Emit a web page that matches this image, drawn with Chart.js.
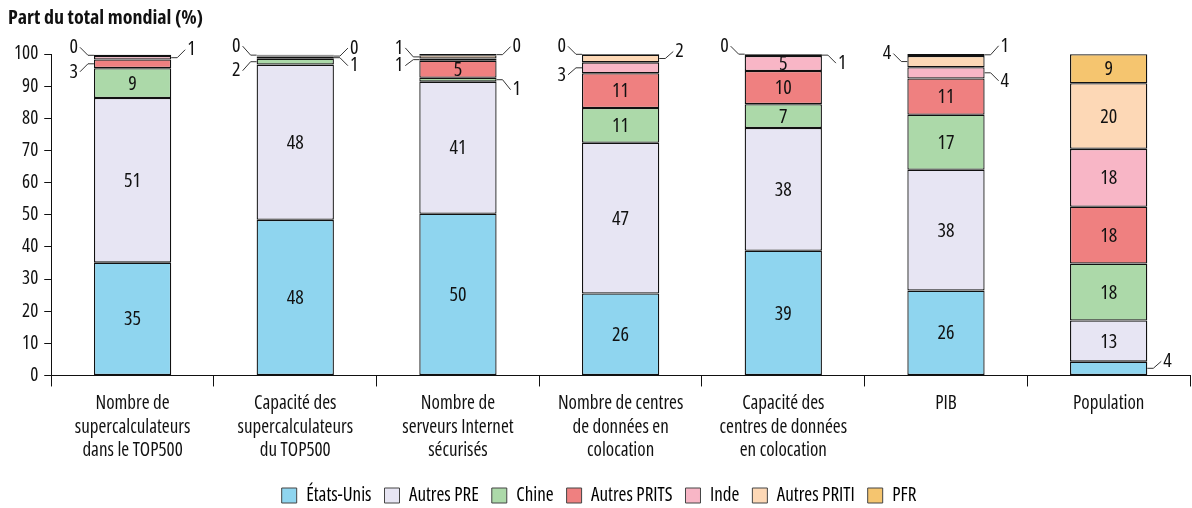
<!DOCTYPE html>
<html>
<head>
<meta charset="utf-8">
<script src="https://cdn.jsdelivr.net/npm/chart.js@4"></script>
<style>
  html, body { margin: 0; padding: 0; background: #fff; }
  #wrap { width: 1192px; height: 508px; }
</style>
</head>
<body>
<div id="wrap"><canvas id="graphique"></canvas></div>
<script>
// --- DONNÉES ---
const categories = [
  ['Nombre de', 'supercalculateurs', 'dans le TOP500'],
  ['Capacité des', 'supercalculateurs', 'du TOP500'],
  ['Nombre de', 'serveurs Internet', 'sécurisés'],
  ['Nombre de centres', 'de données en', 'colocation'],
  ['Capacité des', 'centres de données', 'en colocation'],
  ['PIB'],
  ['Population']
];
const etatsUnis   = [35.1, 48.4, 50.3, 25.5, 38.8, 26.4, 4.3];
const autresPRE   = [51.2, 48.3, 41.1, 46.9, 38.2, 37.6, 12.8];
const chine       = [9.3, 1.8, 1.2, 10.8, 7.4, 17.1, 17.7];
const autresPRITS = [2.7, 0.7, 5.3, 10.8, 10.3, 11.3, 17.7];
const inde        = [1.1, 0.3, 0.7, 3.4, 4.7, 3.5, 18.0];
const autresPRITI = [0.4, 0.3, 1.0, 2.4, 0.5, 3.5, 20.4];
const pfr         = [0, 0, 0.4, 0.2, 0.1, 0.7, 9.0];
const yTicks = [0, 10, 20, 30, 40, 50, 60, 70, 80, 90, 100];

// --- POLICE : on cherche une police étroite installée ---
const essai = document.createElement('canvas').getContext('2d');
function largeur(f) { essai.font = f; return essai.measureText('supercalculateurs TOP500').width; }
const refMono = largeur('100px monospace');
const candidats = [
  ['', "'Liberation Sans Narrow'"], ['', "'DejaVu Sans Condensed'"], ['', "'Roboto Condensed'"],
  ['', "'Open Sans Condensed'"], ['condensed', "'Noto Sans'"], ['condensed', "'Open Sans'"],
  ['condensed', "'Roboto'"], ['condensed', "'DejaVu Sans'"], ['', "'Noto Sans'"], ['', "'DejaVu Sans'"]
];
let choix = candidats[candidats.length - 1], meilleure = Infinity;
candidats.forEach(c => {
  const w = largeur((c[0] ? c[0] + ' ' : '') + '100px ' + c[1] + ', monospace');
  if (Math.abs(w - refMono) > 0.5 && w < meilleure - 0.5) { meilleure = w; choix = c; }
});
const POLICE = choix[1] + ', sans-serif';
const ETIREMENT = choix[0];
// taille pour approcher la largeur des libellés de l'original
const kLargeur = largeur((ETIREMENT ? ETIREMENT + ' ' : '') + '100px ' + POLICE) / 100;
const TAILLE = Math.max(16, Math.min(19, 172 / kLargeur));
const poids = w => (w ? w + ' ' : '') + (ETIREMENT || '') || undefined;
const TRAIT = '#111';

// Séries (du bas vers le haut)
const series = [
  { label: 'États-Unis',   data: etatsUnis,   couleur: '#8fd5ef' },
  { label: 'Autres PRE',   data: autresPRE,   couleur: '#e7e5f3' },
  { label: 'Chine',        data: chine,       couleur: '#acd9a9' },
  { label: 'Autres PRITS', data: autresPRITS, couleur: '#ef8080' },
  { label: 'Inde',         data: inde,        couleur: '#f8b6c6' },
  { label: 'Autres PRITI', data: autresPRITI, couleur: '#fdd8b6' },
  { label: 'PFR',          data: pfr,         couleur: '#f5c56f' }
];

// Étiquettes placées hors de la barre : index de série -> [côté, décalage vertical]
const etiquettesExterieures = [
  { 3: ['L', 8], 4: ['R', -8], 5: ['L', -8] },
  { 2: ['L', 9], 3: ['R', 8], 4: ['R', -8], 5: ['L', -9] },
  { 2: ['R', 10], 4: ['L', 6], 5: ['L', -9], 6: ['R', -8] },
  { 4: ['L', 7], 5: ['R', -7], 6: ['L', -8] },
  { 5: ['R', 8], 6: ['L', -8] },
  { 4: ['R', 8], 5: ['L', -8], 6: ['R', -9] },
  { 0: ['R', -7] }
];

// Plugin : valeurs dans les segments + étiquettes avec traits de rappel
const pluginValeurs = {
  id: 'valeurs',
  afterDatasetsDraw(chart) {
    const ctx = chart.ctx;
    ctx.save();
    ctx.font = (ETIREMENT ? ETIREMENT + ' ' : '') + (TAILLE + 1) + 'px ' + POLICE;
    ctx.fillStyle = '#111';
    ctx.textBaseline = 'middle';
    chart.data.datasets.forEach((ds, i) => {
      const meta = chart.getDatasetMeta(i);
      meta.data.forEach((barre, j) => {
        const v = ds.data[j];
        const texte = String(Math.round(v));
        const milieu = (barre.y + barre.base) / 2;
        const ext = etiquettesExterieures[j][i];
        if (ext) {
          const cote = ext[0] === 'L' ? -1 : 1;
          const bord = barre.x + cote * barre.width / 2;
          const yEtiq = milieu + ext[1];
          ctx.strokeStyle = '#333';
          ctx.lineWidth = 1;
          ctx.beginPath();
          ctx.moveTo(bord, milieu);
          ctx.lineTo(bord + cote * 6, milieu);
          ctx.lineTo(bord + cote * 14, yEtiq);
          ctx.stroke();
          ctx.textAlign = cote < 0 ? 'right' : 'left';
          ctx.fillText(texte, bord + cote * 16, yEtiq);
        } else if (v >= 4) {
          ctx.textAlign = 'center';
          ctx.fillText(texte, barre.x, milieu + 1);
        }
      });
    });
    ctx.restore();
  }
};

const ctx = document.getElementById('graphique').getContext('2d');
const graphique = new Chart(ctx, {
  type: 'bar',
  data: {
    labels: categories,
    datasets: series.map(s => ({
      label: s.label,
      data: s.data,
      backgroundColor: s.couleur,
      borderColor: TRAIT,
      borderWidth: 1.3,
      borderSkipped: false,
      categoryPercentage: 1,
      barPercentage: 0.475
    }))
  },
  options: {
    responsive: true,
    maintainAspectRatio: false,
    animation: false,
    layout: { padding: { left: 8, right: 2, top: 6, bottom: -7 } },
    plugins: {
      title: {
        display: true,
        text: 'Part du total mondial (%)',
        align: 'start',
        color: '#111',
        font: { family: POLICE, size: TAILLE + 1, weight: poids('bold') },
        padding: { top: 0, bottom: 24 }
      },
      legend: {
        position: 'bottom',
        labels: {
          color: '#111',
          font: { family: POLICE, size: TAILLE, weight: poids('') },
          boxWidth: 15,
          boxHeight: 15,
          padding: 13,
          generateLabels(chart) {
            return chart.data.datasets.map((ds, i) => ({
              text: ds.label,
              fillStyle: ds.backgroundColor,
              strokeStyle: '#444',
              lineWidth: 1,
              datasetIndex: i
            }));
          }
        }
      },
      tooltip: { enabled: false }
    },
    scales: {
      x: {
        stacked: true,
        afterFit(axis) { axis.height += 5; },
        grid: { drawOnChartArea: false, offset: true, tickLength: 11, color: TRAIT },
        border: { color: TRAIT, width: 1 },
        ticks: { color: '#111', font: { family: POLICE, size: TAILLE, weight: poids(''), lineHeight: 1.22 }, maxRotation: 0, autoSkip: false, padding: 6 }
      },
      y: {
        stacked: true,
        min: 0,
        max: 100,
        afterBuildTicks(axis) { axis.ticks = yTicks.map(v => ({ value: v })); },
        grid: { drawOnChartArea: false, tickLength: 7, color: TRAIT },
        border: { color: TRAIT, width: 1 },
        ticks: { color: '#111', font: { family: POLICE, size: TAILLE, weight: poids('') }, padding: 6 }
      }
    }
  },
  plugins: [pluginValeurs]
});
</script>
</body>
</html>
